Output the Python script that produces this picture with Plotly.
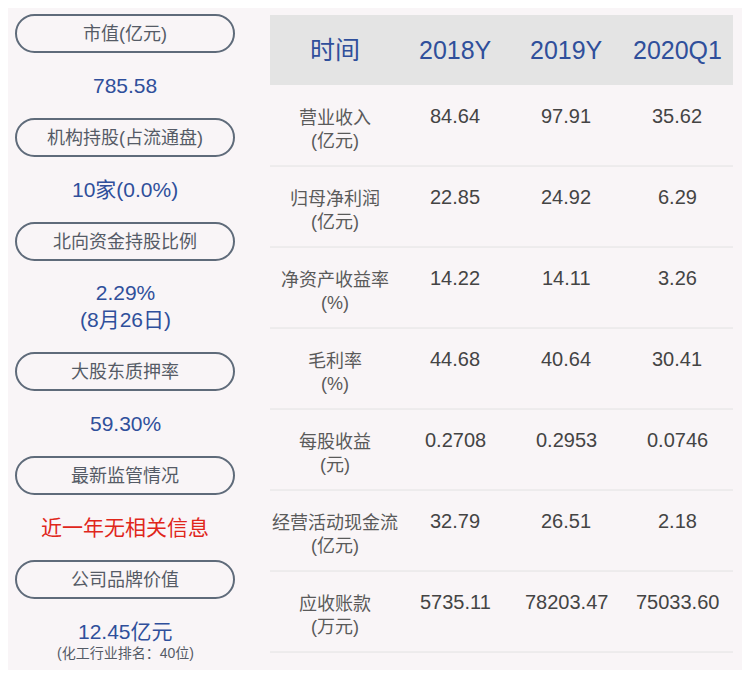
import plotly.graph_objects as go

# left panel
left_labels = ["市值(亿元)", "机构持股(占流通盘)", "北向资金持股比例", "大股东质押率", "最新监管情况", "公司品牌价值"]
left_values = ["785.58", "10家(0.0%)", "2.29%<br>(8月26日)", "59.30%", "近一年无相关信息", "12.45亿元"]
left_notes = ["", "", "", "", "", "(化工行业排名：40位)"]

# right table
periods = ["2018Y", "2019Y", "2020Q1"]
metrics = ["营业收入<br>(亿元)", "归母净利润<br>(亿元)", "净资产收益率<br>(%)", "毛利率<br>(%)",
           "每股收益<br>(元)", "经营活动现金流<br>(亿元)", "应收账款<br>(万元)"]
v2018 = ["84.64", "22.85", "14.22", "44.68", "0.2708", "32.79", "5735.11"]
v2019 = ["97.91", "24.92", "14.11", "40.64", "0.2953", "26.51", "78203.47"]
v2020 = ["35.62", "6.29", "3.26", "30.41", "0.0746", "2.18", "75033.60"]

FONT = "Liberation Sans, Noto Sans CJK SC"
BLUE = "#2f4f9b"
W, H = 750, 678
OFF = 8  # page body margin

fig = go.Figure()
shapes, ann = [], []


def pill(x0, x1, y0, y1):
    r = (y1 - y0) / 2
    k = r * 0.5523
    return (f"M {x0+r} {y0} L {x1-r} {y0} "
            f"C {x1-r+k} {y0} {x1} {y0+r-k} {x1} {y0+r} "
            f"C {x1} {y0+r+k} {x1-r+k} {y1} {x1-r} {y1} "
            f"L {x0+r} {y1} "
            f"C {x0+r-k} {y1} {x0} {y0+r+k} {x0} {y0+r} "
            f"C {x0} {y0+r-k} {x0+r-k} {y0} {x0+r} {y0} Z")


pill_top = [15, 119, 223, 353, 457, 561]
val_y = [85, 189, 306, 423, 527, 631]
for lab, val, note, top, vy in zip(left_labels, left_values, left_notes, pill_top, val_y):
    shapes.append(dict(type="path", xref="x", yref="y", path=pill(16, 234, top, top + 37),
                       line=dict(color="#5f6b7a", width=2), fillcolor="rgba(0,0,0,0)"))
    ann.append(dict(x=125, y=top + 18.5, text=lab, showarrow=False,
                    font=dict(family=FONT, size=18, color="#555b66")))
    red = "无相关" in val
    ann.append(dict(x=125, y=vy, text=val, showarrow=False,
                    font=dict(family=FONT, size=21, color="#e0261b" if red else BLUE)))
    if note:
        ann.append(dict(x=125, y=653, text=note, showarrow=False,
                        font=dict(family=FONT, size=14, color="#555b66")))

# header
shapes.append(dict(type="rect", xref="x", yref="y", x0=270, x1=733, y0=15, y1=85,
                   fillcolor="#e4e4e4", line_width=0, layer="below"))
col_x = [335, 455, 566, 677]
for cx, txt in zip(col_x, ["时间"] + periods):
    ann.append(dict(x=cx, y=50, text=txt, showarrow=False,
                    font=dict(family=FONT, size=25, color=BLUE)))

row_h = 81
for i, m in enumerate(metrics):
    top = 85 + i * row_h
    ann.append(dict(x=col_x[0], y=top + 44, text=m, showarrow=False,
                    font=dict(family=FONT, size=18, color="#5a5a5a")))
    for cx, v in zip(col_x[1:], [v2018[i], v2019[i], v2020[i]]):
        ann.append(dict(x=cx, y=top + 31, text=v, showarrow=False,
                        font=dict(family=FONT, size=20, color="#444444")))
    shapes.append(dict(type="line", xref="x", yref="y", x0=270, x1=733,
                       y0=top + row_h, y1=top + row_h, line=dict(color="#e2e2e2", width=1)))

fig.update_layout(
    width=W - 2 * OFF, height=H - 2 * OFF, margin=dict(l=0, r=0, t=0, b=0),
    paper_bgcolor="#f9f5f7", plot_bgcolor="#f9f5f7",
    xaxis=dict(range=[OFF, W - OFF], visible=False, fixedrange=True),
    yaxis=dict(range=[H - OFF, OFF], visible=False, fixedrange=True),
    shapes=shapes, annotations=ann, showlegend=False,
)
fig.write_html("out.html")
